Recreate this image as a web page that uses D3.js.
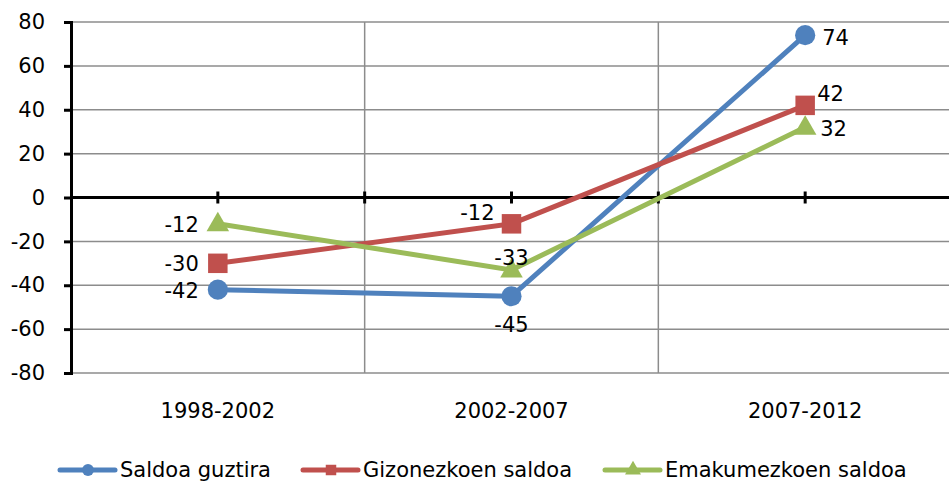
<!DOCTYPE html>
<html>
<head>
<meta charset="utf-8">
<script src="https://cdn.jsdelivr.net/npm/d3@7"></script>
<style>
  html, body { margin: 0; padding: 0; background: #fff; }
  svg { display: block; font-family: "DejaVu Sans", Verdana, sans-serif; }
</style>
</head>
<body>
<svg id="chart" width="949" height="484"></svg>
<script>
// Migration balance by period
const periods = ["1998-2002", "2002-2007", "2007-2012"];
const seriesNames = ["Saldoa guztira", "Gizonezkoen saldoa", "Emakumezkoen saldoa"];
const totalBalance = [-42, -45, 74];
const menBalance = [-30, -12, 42];
const womenBalance = [-12, -33, 32];
const yTicks = [-80, -60, -40, -20, 0, 20, 40, 60, 80];

const colors = ["#4F81BD", "#C0504D", "#9BBB59"];
const symbols = [d3.symbolCircle, d3.symbolSquare, d3.symbolTriangle];
const symbolSizes = [320, 380, 220];
const fontSize = 21;
// label placement per series / point: [dx, dy, anchor]
const labelPos = [
  [[-19, 8, "end"], [0, 36, "middle"], [17, 10, "start"]],
  [[-19, 8, "end"], [-17, -4, "end"], [12, -4, "start"]],
  [[-19, 8, "end"], [0, -5, "middle"], [15, 9, "start"]]
];

const series = [totalBalance, menBalance, womenBalance].map((values, i) => ({
  name: seriesNames[i], values, color: colors[i], symbol: symbols[i], size: symbolSizes[i], pos: labelPos[i]
}));

const svg = d3.select("#chart");
const plotLeft = 71, plotRight = 952, plotTop = 22, plotBottom = 373;

const x = d3.scaleBand().domain(periods).range([plotLeft, plotRight]).padding(0);
const y = d3.scaleLinear().domain([-80, 80]).range([plotBottom, plotTop]);
const cx = d => x(d) + x.bandwidth() / 2;

// horizontal gridlines
svg.append("g").selectAll("line").data(yTicks.filter(t => t !== 0)).join("line")
  .attr("x1", plotLeft).attr("x2", plotRight)
  .attr("y1", d => y(d)).attr("y2", d => y(d))
  .attr("stroke", "#8c8c8c").attr("stroke-width", 1.5);

// vertical gridlines at category boundaries
svg.append("g").selectAll("line").data(periods.slice(1)).join("line")
  .attr("x1", d => x(d)).attr("x2", d => x(d))
  .attr("y1", plotTop).attr("y2", plotBottom)
  .attr("stroke", "#8c8c8c").attr("stroke-width", 1.5);

// y axis
const yAxis = svg.append("g").attr("transform", `translate(${plotLeft},0)`)
  .call(d3.axisLeft(y).tickValues(yTicks).tickSize(7).tickPadding(19).tickFormat(d => String(d)));
yAxis.select(".domain").attr("stroke", "#000").attr("stroke-width", 3);
yAxis.selectAll(".tick line").attr("stroke", "#000").attr("stroke-width", 3);
yAxis.selectAll(".tick text").attr("font-size", fontSize).attr("fill", "#000")
  .attr("font-family", "DejaVu Sans, Verdana, sans-serif");

// zero line
svg.append("line").attr("x1", plotLeft).attr("x2", plotRight)
  .attr("y1", y(0)).attr("y2", y(0)).attr("stroke", "#000").attr("stroke-width", 3);

// tick marks on the zero line
const tickXs = periods.map(cx).concat(periods.slice(1).map(d => x(d)));
svg.append("g").selectAll("line").data(tickXs).join("line")
  .attr("x1", d => d).attr("x2", d => d)
  .attr("y1", y(0) - 6).attr("y2", y(0) + 6)
  .attr("stroke", "#000").attr("stroke-width", 3);

// category labels
svg.append("g").selectAll("text").data(periods).join("text")
  .attr("x", d => cx(d)).attr("y", 418)
  .attr("text-anchor", "middle").attr("font-size", fontSize).attr("fill", "#000")
  .text(d => d);

// series lines, markers, labels
const line = d3.line().x((d, i) => cx(periods[i])).y(d => y(d));
series.forEach(s => {
  const g = svg.append("g");
  g.append("path").datum(s.values).attr("d", line)
    .attr("fill", "none").attr("stroke", s.color).attr("stroke-width", 5)
    .attr("stroke-linejoin", "round");
  g.selectAll("path.m").data(s.values).join("path").attr("class", "m")
    .attr("transform", (d, i) => `translate(${cx(periods[i])},${y(d) + (s.symbol === d3.symbolTriangle ? 1 : 0)})`)
    .attr("d", d3.symbol(s.symbol, s.size))
    .attr("fill", s.color);
  g.selectAll("text").data(s.values).join("text")
    .attr("x", (d, i) => cx(periods[i]) + s.pos[i][0])
    .attr("y", (d, i) => y(d) + s.pos[i][1])
    .attr("text-anchor", (d, i) => s.pos[i][2])
    .attr("font-size", fontSize).attr("fill", "#000")
    .text(d => d);
});

// legend
const legendX = [60, 303, 605];
const lg = svg.append("g");
series.forEach((s, i) => {
  const g = lg.append("g").attr("transform", `translate(${legendX[i]},470)`);
  g.append("line").attr("x1", 0).attr("x2", 55).attr("y1", 0).attr("y2", 0)
    .attr("stroke", s.color).attr("stroke-width", 5).attr("stroke-linecap", "round");
  g.append("path").attr("transform", "translate(28,0)")
    .attr("d", d3.symbol(s.symbol, 110)).attr("fill", s.color);
  g.append("text").attr("x", 60).attr("y", 7).attr("font-size", fontSize).attr("fill", "#000")
    .text(s.name);
});
</script>
</body>
</html>
